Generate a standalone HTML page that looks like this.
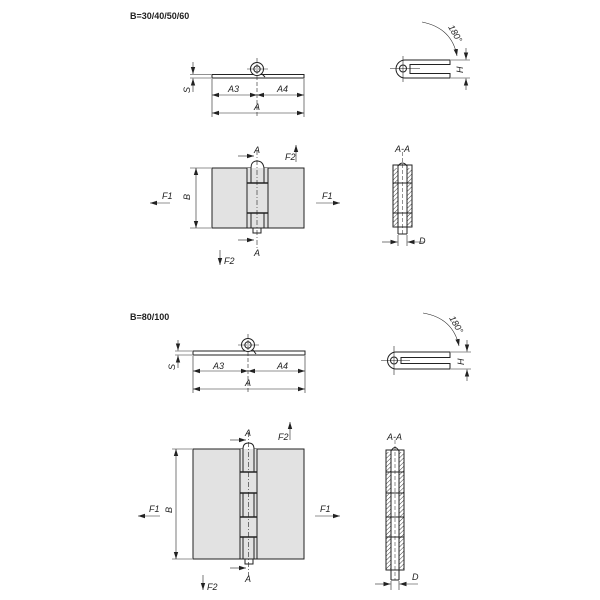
<!DOCTYPE html>
<html><head><meta charset="utf-8"><style>
html,body{margin:0;padding:0;background:#fff}
svg{display:block}
text{font-family:"Liberation Sans",sans-serif;font-style:italic;font-size:9px;fill:#222}
.t{font-style:normal;font-weight:bold;font-size:9px}
</style></head><body>
<svg width="600" height="600" viewBox="0 0 600 600" xmlns="http://www.w3.org/2000/svg">
<defs>
<marker id="ar" markerWidth="8" markerHeight="6" refX="7" refY="3" orient="auto" markerUnits="userSpaceOnUse"><path d="M0,0.8 L7,3 L0,5.2z" fill="#222"/></marker>
<marker id="al" markerWidth="8" markerHeight="6" refX="1" refY="3" orient="auto" markerUnits="userSpaceOnUse"><path d="M8,0.8 L1,3 L8,5.2z" fill="#222"/></marker>
<pattern id="h" width="3" height="3" patternUnits="userSpaceOnUse" patternTransform="rotate(45)"><line x1="0" y1="0" x2="0" y2="3" stroke="#444" stroke-width="1"/></pattern>
</defs>
<g stroke="#222" fill="none" stroke-width="1">

<!-- ===== UPPER ===== -->
<!-- top view -->
<rect x="212" y="74.5" width="92" height="3.5" fill="#fff"/>
<circle cx="257" cy="69" r="6.5" fill="#fff"/>
<circle cx="257" cy="69" r="3.2"/>
<path d="M262,74 L265,77" />
<line x1="257" y1="58" x2="257" y2="118" stroke-width="0.6" stroke-dasharray="4,2"/>
<line x1="247" y1="69" x2="268" y2="69" stroke-width="0.6"/>
<line x1="212" y1="79" x2="212" y2="117" stroke-width="0.6"/>
<line x1="304" y1="79" x2="304" y2="117" stroke-width="0.6"/>
<line x1="190" y1="74.5" x2="211" y2="74.5" stroke-width="0.6"/>
<line x1="190" y1="78" x2="211" y2="78" stroke-width="0.6"/>
<line x1="193" y1="62" x2="193" y2="74" stroke-width="0.6" marker-end="url(#ar)"/>
<line x1="193" y1="92" x2="193" y2="78.5" stroke-width="0.6" marker-end="url(#ar)"/>
<line x1="212" y1="95" x2="257" y2="95" stroke-width="0.6" marker-start="url(#al)" marker-end="url(#ar)"/>
<line x1="257" y1="95" x2="304" y2="95" stroke-width="0.6" marker-start="url(#al)" marker-end="url(#ar)"/>
<line x1="212" y1="113" x2="304" y2="113" stroke-width="0.6" marker-start="url(#al)" marker-end="url(#ar)"/>

<!-- front view -->
<rect x="212" y="168" width="92" height="60" fill="#e2e2e2"/>
<path d="M247,168 L247,228 L268,228 L268,168" fill="#e2e2e2"/>
<path d="M251,168 Q251,161 257,161 Q263,161 264,168" fill="#fff"/>
<line x1="251" y1="168" x2="251" y2="183"/><line x1="264" y1="168" x2="264" y2="183"/>
<line x1="247" y1="183" x2="268" y2="183" stroke-width="1.5"/>
<line x1="247" y1="213" x2="268" y2="213" stroke-width="1.5"/>
<line x1="251" y1="213" x2="251" y2="228"/><line x1="264" y1="213" x2="264" y2="228"/>
<rect x="253" y="228" width="8" height="5" fill="#fff"/>
<line x1="257" y1="150" x2="257" y2="248" stroke-width="0.6" stroke-dasharray="5,2,1,2"/>
<line x1="190" y1="168" x2="211" y2="168" stroke-width="0.6"/>
<line x1="190" y1="228" x2="211" y2="228" stroke-width="0.6"/>
<line x1="196" y1="168" x2="196" y2="228" stroke-width="0.6" marker-start="url(#al)" marker-end="url(#ar)"/>
<line x1="238" y1="156" x2="254" y2="156" stroke-width="0.6" marker-end="url(#ar)"/>
<line x1="238" y1="240" x2="254" y2="240" stroke-width="0.6" marker-end="url(#ar)"/>
<line x1="170" y1="203" x2="150" y2="203" stroke-width="0.6" marker-end="url(#ar)"/>
<line x1="316" y1="203" x2="340" y2="203" stroke-width="0.6" marker-end="url(#ar)"/>
<line x1="296" y1="162" x2="296" y2="145" stroke-width="0.6" marker-end="url(#ar)"/>
<line x1="220" y1="250" x2="220" y2="265" stroke-width="0.6" marker-end="url(#ar)"/>

<!-- side view -->
<path d="M450,60 L405,60 A9,9 0 1 0 405,78 L450,78 L450,73.5 L410,73.5 L410,64.5 L450,64.5 Z" fill="#fff"/>
<circle cx="403" cy="68.5" r="3.5"/>
<line x1="390" y1="68.5" x2="420" y2="68.5" stroke-width="0.6"/>
<line x1="403" y1="56" x2="403" y2="82" stroke-width="0.6"/>
<line x1="451" y1="60" x2="470" y2="60" stroke-width="0.6"/>
<line x1="451" y1="78" x2="470" y2="78" stroke-width="0.6"/>
<line x1="466" y1="48" x2="466" y2="59.5" stroke-width="0.6" marker-end="url(#ar)"/>
<line x1="466" y1="90" x2="466" y2="78.5" stroke-width="0.6" marker-end="url(#ar)"/>
<path d="M422,22 Q452,28 457,56" stroke-width="0.6" marker-end="url(#ar)"/>

<!-- section A-A -->
<rect x="393" y="165" width="19" height="62" fill="#fff"/>
<rect x="393.5" y="168" width="4" height="58" fill="url(#h)" stroke="none"/>
<rect x="407.5" y="168" width="4" height="58" fill="url(#h)" stroke="none"/>
<line x1="398" y1="165" x2="398" y2="234"/><line x1="407" y1="165" x2="407" y2="234"/>
<line x1="398" y1="234" x2="407" y2="234"/>
<path d="M398,166 Q402.5,160 407,166"/>
<line x1="393" y1="183" x2="412" y2="183"/><line x1="393" y1="213" x2="412" y2="213"/>
<line x1="402.5" y1="152" x2="402.5" y2="234" stroke-width="0.5" stroke-dasharray="4,2"/>
<line x1="398" y1="235" x2="398" y2="246" stroke-width="0.6"/><line x1="407" y1="235" x2="407" y2="246" stroke-width="0.6"/>
<line x1="382" y1="242" x2="397.5" y2="242" stroke-width="0.6" marker-end="url(#ar)"/>
<line x1="425" y1="242" x2="407.5" y2="242" stroke-width="0.6" marker-end="url(#ar)"/>

<!-- ===== LOWER ===== -->
<rect x="193" y="351" width="112" height="4" fill="#fff"/>
<circle cx="248" cy="345" r="6.5" fill="#fff"/>
<circle cx="248" cy="345" r="3.2"/>
<path d="M253,350 L256,354"/>
<line x1="248" y1="334" x2="248" y2="393" stroke-width="0.6" stroke-dasharray="4,2"/>
<line x1="238" y1="345" x2="259" y2="345" stroke-width="0.6"/>
<line x1="193" y1="356" x2="193" y2="393" stroke-width="0.6"/>
<line x1="305" y1="356" x2="305" y2="393" stroke-width="0.6"/>
<line x1="175" y1="351" x2="192" y2="351" stroke-width="0.6"/>
<line x1="175" y1="355" x2="192" y2="355" stroke-width="0.6"/>
<line x1="178" y1="340" x2="178" y2="350.5" stroke-width="0.6" marker-end="url(#ar)"/>
<line x1="178" y1="368" x2="178" y2="355.5" stroke-width="0.6" marker-end="url(#ar)"/>
<line x1="193" y1="371" x2="248" y2="371" stroke-width="0.6" marker-start="url(#al)" marker-end="url(#ar)"/>
<line x1="248" y1="371" x2="305" y2="371" stroke-width="0.6" marker-start="url(#al)" marker-end="url(#ar)"/>
<line x1="193" y1="389" x2="305" y2="389" stroke-width="0.6" marker-start="url(#al)" marker-end="url(#ar)"/>

<rect x="193" y="449" width="111" height="110" fill="#e2e2e2"/>
<path d="M240,449 L240,559 L257,559 L257,449" fill="#e2e2e2"/>
<path d="M243,449 Q243,443 248.5,443 Q254,443 254,449" fill="#fff"/>
<line x1="243" y1="449" x2="243" y2="472"/><line x1="254" y1="449" x2="254" y2="472"/>
<line x1="240" y1="472" x2="257" y2="472" stroke-width="1.5"/>
<line x1="240" y1="493" x2="257" y2="493" stroke-width="1.5"/>
<line x1="243" y1="493" x2="243" y2="517"/><line x1="254" y1="493" x2="254" y2="517"/>
<line x1="240" y1="517" x2="257" y2="517" stroke-width="1.5"/>
<line x1="240" y1="537" x2="257" y2="537" stroke-width="1.5"/>
<line x1="243" y1="537" x2="243" y2="559"/><line x1="254" y1="537" x2="254" y2="559"/>
<rect x="245" y="559" width="8" height="5" fill="#fff"/>
<line x1="248.5" y1="432" x2="248.5" y2="578" stroke-width="0.6" stroke-dasharray="5,2,1,2"/>
<line x1="172" y1="449" x2="192" y2="449" stroke-width="0.6"/>
<line x1="172" y1="559" x2="192" y2="559" stroke-width="0.6"/>
<line x1="176" y1="449" x2="176" y2="559" stroke-width="0.6" marker-start="url(#al)" marker-end="url(#ar)"/>
<line x1="230" y1="440" x2="246" y2="440" stroke-width="0.6" marker-end="url(#ar)"/>
<line x1="230" y1="568" x2="246" y2="568" stroke-width="0.6" marker-end="url(#ar)"/>
<line x1="160" y1="516" x2="138" y2="516" stroke-width="0.6" marker-end="url(#ar)"/>
<line x1="315" y1="516" x2="340" y2="516" stroke-width="0.6" marker-end="url(#ar)"/>
<line x1="290" y1="440" x2="290" y2="422" stroke-width="0.6" marker-end="url(#ar)"/>
<line x1="203" y1="575" x2="203" y2="590" stroke-width="0.6" marker-end="url(#ar)"/>

<path d="M450,352 L396,352 A8.5,8.5 0 1 0 396,369 L450,369 L450,363.5 L401,363.5 L401,357.5 L450,357.5 Z" fill="#fff"/>
<circle cx="394" cy="360.5" r="3.5"/>
<line x1="381" y1="360.5" x2="410" y2="360.5" stroke-width="0.6"/>
<line x1="394" y1="346" x2="394" y2="375" stroke-width="0.6"/>
<line x1="451" y1="352" x2="471" y2="352" stroke-width="0.6"/>
<line x1="451" y1="369" x2="471" y2="369" stroke-width="0.6"/>
<line x1="467" y1="340" x2="467" y2="351.5" stroke-width="0.6" marker-end="url(#ar)"/>
<line x1="467" y1="381" x2="467" y2="369.5" stroke-width="0.6" marker-end="url(#ar)"/>
<path d="M423,313 Q453,318 459,346" stroke-width="0.6" marker-end="url(#ar)"/>

<rect x="386" y="450" width="18" height="120" fill="#fff"/>
<rect x="386.5" y="452" width="4" height="117" fill="url(#h)" stroke="none"/>
<rect x="399.5" y="452" width="4" height="117" fill="url(#h)" stroke="none"/>
<line x1="391" y1="450" x2="391" y2="580"/><line x1="399" y1="450" x2="399" y2="580"/>
<line x1="391" y1="580" x2="399" y2="580"/>
<path d="M391,451 Q395,444 399,451"/>
<line x1="386" y1="472" x2="404" y2="472"/><line x1="386" y1="493" x2="404" y2="493"/>
<line x1="386" y1="517" x2="404" y2="517"/><line x1="386" y1="537" x2="404" y2="537"/>
<line x1="395" y1="440" x2="395" y2="580" stroke-width="0.5" stroke-dasharray="4,2"/>
<line x1="391" y1="581" x2="391" y2="590" stroke-width="0.6"/><line x1="399" y1="581" x2="399" y2="590" stroke-width="0.6"/>
<line x1="375" y1="584" x2="390.5" y2="584" stroke-width="0.6" marker-end="url(#ar)"/>
<line x1="418" y1="584" x2="399.5" y2="584" stroke-width="0.6" marker-end="url(#ar)"/>
</g>

<!-- labels -->
<text class="t" x="130" y="19">B=30/40/50/60</text>
<text x="228" y="92">A3</text><text x="277" y="92">A4</text><text x="254" y="110">A</text>
<text x="190" y="93" transform="rotate(-90 190 93)">S</text>
<text x="254" y="153">A</text><text x="254" y="256">A</text>
<text x="285" y="160">F2</text><text x="224" y="264">F2</text>
<text x="162" y="199">F1</text><text x="322" y="199">F1</text>
<text x="190" y="200" transform="rotate(-90 190 200)">B</text>
<text x="463" y="73" transform="rotate(-90 463 73)">H</text>
<text x="448" y="27" font-size="7" transform="rotate(60 448 27)">180°</text>
<text x="395" y="152">A-A</text>
<text x="419" y="244">D</text>

<text class="t" x="130" y="320">B=80/100</text>
<text x="213" y="369">A3</text><text x="277" y="369">A4</text><text x="245" y="386">A</text>
<text x="175" y="370" transform="rotate(-90 175 370)">S</text>
<text x="245" y="436">A</text><text x="245" y="582">A</text>
<text x="278" y="440">F2</text><text x="207" y="590">F2</text>
<text x="149" y="512">F1</text><text x="320" y="512">F1</text>
<text x="172" y="513" transform="rotate(-90 172 513)">B</text>
<text x="464" y="365" transform="rotate(-90 464 365)">H</text>
<text x="449" y="318" font-size="7" transform="rotate(60 449 318)">180°</text>
<text x="387" y="440">A-A</text>
<text x="412" y="580">D</text>
</svg>
</body></html>
